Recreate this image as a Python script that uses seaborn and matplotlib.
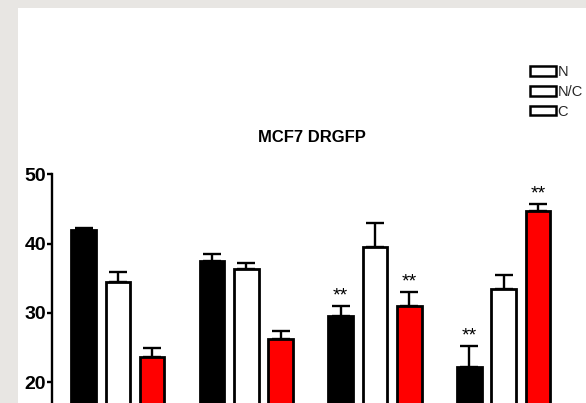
import numpy as np
import pandas as pd
import matplotlib
matplotlib.use("Agg")
import matplotlib.pyplot as plt
import seaborn as sns
from matplotlib.patches import Patch, Rectangle

# ---- data ----
groups = ["1", "2", "3", "4"]
series = ["N", "N/C", "C"]
n_vals = [42.0, 37.5, 29.6, 22.2]
nc_vals = [34.5, 36.4, 39.5, 33.4]
c_vals = [23.7, 26.3, 31.0, 44.7]
n_err = [0.2, 1.0, 1.4, 3.0]
nc_err = [1.4, 0.8, 3.5, 2.0]
c_err = [1.2, 1.1, 2.0, 1.0]
n_sig = ["", "", "**", "**"]
nc_sig = ["", "", "", ""]
c_sig = ["", "", "**", "**"]
colors = ["#000000", "#ffffff", "#ff0000"]
yticks = [20, 30, 40, 50]
title = "MCF7 DRGFP"

vals = [n_vals, nc_vals, c_vals]
errs = [n_err, nc_err, c_err]
sigs = [n_sig, nc_sig, c_sig]

df = pd.DataFrame({
    "group": [g for s in series for g in groups],
    "series": [s for s in series for g in groups],
    "value": [v for vs in vals for v in vs],
})

sns.set_theme(style="white")
plt.rcParams["font.family"] = ["Liberation Sans", "DejaVu Sans"]

W, H = 586, 403
fig = plt.figure(figsize=(W / 100, H / 100), dpi=100, facecolor="#e8e6e3")
fig.add_artist(Rectangle((18 / W, 0), 1, 1 - 8 / H, transform=fig.transFigure,
                         facecolor="white", edgecolor="none", zorder=0))

ax = fig.add_axes([52.3 / W, 1 - 520.8 / H, (600 - 52.3) / W, 346.5 / H])
ax.set_facecolor("none")

sns.barplot(data=df, x="group", y="value", hue="series", order=groups,
            hue_order=series, palette=dict(zip(series, colors)),
            saturation=1, edgecolor="black", linewidth=2.0, width=0.8, gap=0.28,
            errorbar=None, legend=False, ax=ax, zorder=3)

pitch = 0.8 / len(series)
for p in ax.patches:
    cx = p.get_x() + p.get_width() / 2
    g = int(round(cx))
    h = int(round((cx - g) / pitch)) + 1
    v = vals[h][g]
    e = errs[h][g]
    ax.errorbar(cx, v, yerr=[[0], [e]], fmt="none", ecolor="black",
                elinewidth=1.7, capsize=6.5, capthick=1.7, zorder=2)
    if sigs[h][g]:
        ax.annotate(sigs[h][g], (cx, v + e), xytext=(0, 1.0),
                    textcoords="offset points", ha="center", va="bottom",
                    fontsize=14, color="black")

ax.set_xlim(-0.51, 3.75)
ax.set_ylim(0, 50)
ax.set_yticks(yticks)
ax.set_yticklabels([str(t) for t in yticks], fontsize=14, fontweight="bold")
ax.set_xticks([])
ax.set_xlabel("")
ax.set_ylabel("")
for s in ["top", "right", "bottom"]:
    ax.spines[s].set_visible(False)
ax.spines["left"].set_linewidth(1.7)
ax.spines["left"].set_color("black")
ax.tick_params(axis="y", direction="out", length=3.5, width=1.7, color="black",
               pad=1, left=True, labelcolor="black")

fig.text(312 / W, 1 - 138 / H, title, ha="center", va="center",
         fontsize=12, fontweight="bold", color="black")

handles = [Patch(facecolor="white", edgecolor="black", linewidth=1.8, label=s)
           for s in series]
fig.legend(handles=handles, loc="upper left", bbox_to_anchor=(530 / W, 1 - 65 / H),
           frameon=False, fontsize=10.5, handlelength=1.75, handleheight=0.65,
           handletextpad=0.15, labelspacing=0.4, borderpad=0, borderaxespad=0)

fig.savefig("out.png", dpi=100, facecolor=fig.get_facecolor())
